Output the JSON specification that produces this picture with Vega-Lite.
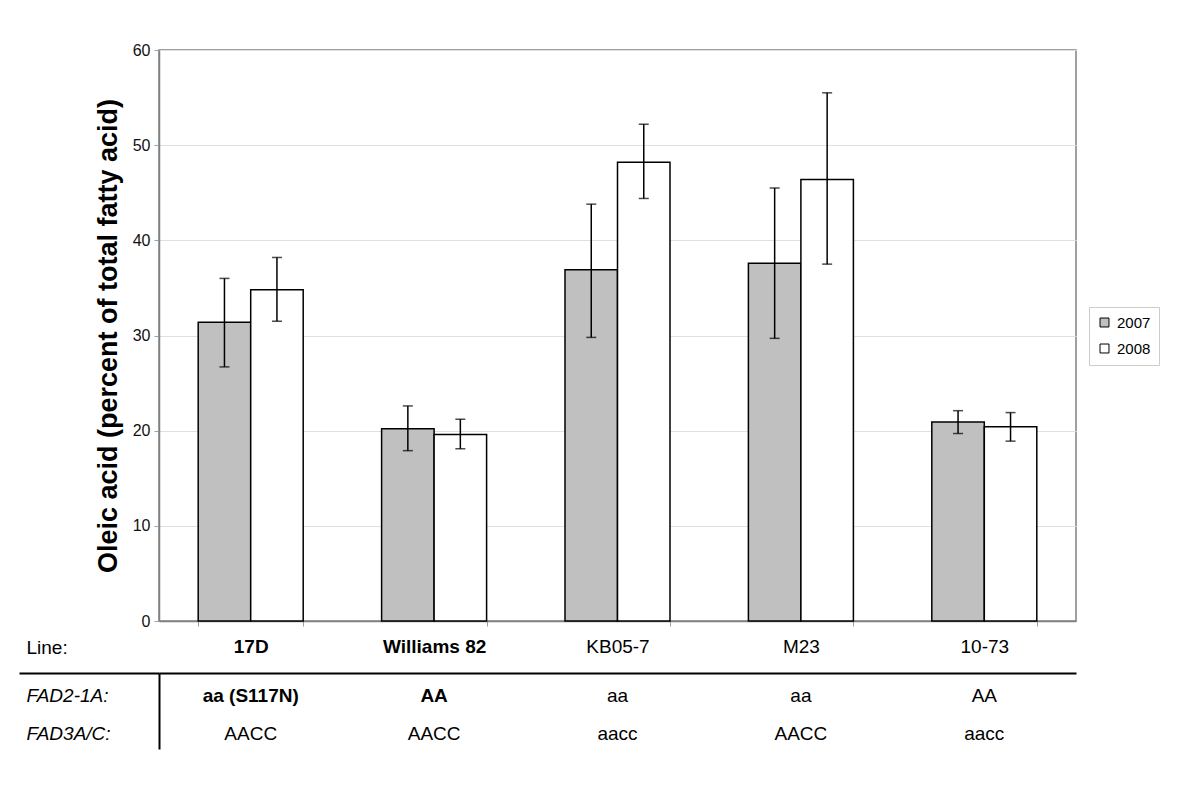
{
  "$schema": "https://vega.github.io/schema/vega-lite/v6.json",
  "background": "white",
  "padding": {"left": 18, "top": 41, "right": 5, "bottom": 5},
  "config": {
    "font": "Liberation Sans",
    "view": {"stroke": null}
  },
  "datasets": {
    "bars": [
      {"line": "17D", "year": "2007", "mean": 31.4, "lo": 26.7, "hi": 36.0},
      {"line": "17D", "year": "2008", "mean": 34.8, "lo": 31.5, "hi": 38.2},
      {"line": "Williams 82", "year": "2007", "mean": 20.2, "lo": 17.9, "hi": 22.6},
      {"line": "Williams 82", "year": "2008", "mean": 19.6, "lo": 18.1, "hi": 21.2},
      {"line": "KB05-7", "year": "2007", "mean": 36.9, "lo": 29.8, "hi": 43.8},
      {"line": "KB05-7", "year": "2008", "mean": 48.2, "lo": 44.4, "hi": 52.2},
      {"line": "M23", "year": "2007", "mean": 37.6, "lo": 29.7, "hi": 45.5},
      {"line": "M23", "year": "2008", "mean": 46.4, "lo": 37.5, "hi": 55.5},
      {"line": "10-73", "year": "2007", "mean": 20.9, "lo": 19.7, "hi": 22.1},
      {"line": "10-73", "year": "2008", "mean": 20.4, "lo": 18.9, "hi": 21.9}
    ],
    "table": [
      {"line": "17D", "row": "FAD2-1A:", "value": "aa (S117N)"},
      {"line": "Williams 82", "row": "FAD2-1A:", "value": "AA"},
      {"line": "KB05-7", "row": "FAD2-1A:", "value": "aa"},
      {"line": "M23", "row": "FAD2-1A:", "value": "aa"},
      {"line": "10-73", "row": "FAD2-1A:", "value": "AA"},
      {"line": "17D", "row": "FAD3A/C:", "value": "AACC"},
      {"line": "Williams 82", "row": "FAD3A/C:", "value": "AACC"},
      {"line": "KB05-7", "row": "FAD3A/C:", "value": "aacc"},
      {"line": "M23", "row": "FAD3A/C:", "value": "AACC"},
      {"line": "10-73", "row": "FAD3A/C:", "value": "aacc"}
    ]
  },
  "spacing": 14,
  "resolve": {"legend": {"fill": "independent"}},
  "vconcat": [
    {
      "width": 917,
      "height": 571,
      "view": {"stroke": "#808080", "strokeWidth": 1.5},
      "data": {"name": "bars"},
      "encoding": {
        "x": {
          "field": "line", "type": "nominal",
          "sort": ["17D", "Williams 82", "KB05-7", "M23", "10-73"],
          "scale": {"paddingInner": 0.4275, "paddingOuter": 0.21375},
          "axis": {
            "title": "Line:", "titleX": -133, "titleY": 26, "titleAlign": "left", "titleBaseline": "middle",
            "titleFontWeight": "normal", "titleFontSize": 19, "titleColor": "black",
            "labelAngle": 0, "labelFontSize": 19, "labelColor": "black", "labelPadding": 11,
            "labelFontWeight": {"condition": {"test": "datum.value === '17D' || datum.value === 'Williams 82'", "value": "bold"}, "value": "normal"},
            "tickBand": "extent", "tickSize": 5, "tickColor": "#a0a0a0", "domainColor": "#808080", "domainWidth": 1.5
          }
        },
        "xOffset": {"field": "year", "type": "nominal", "sort": ["2007", "2008"], "scale": {"paddingInner": 0, "paddingOuter": 0}}
      },
      "layer": [
        {
          "mark": {"type": "bar", "stroke": "black", "strokeWidth": 1.5},
          "encoding": {
            "y": {
              "field": "mean", "type": "quantitative", "title": "Oleic acid (percent of total fatty acid)",
              "scale": {"domain": [0, 60], "nice": false},
              "axis": {
                "values": [0, 10, 20, 30, 40, 50, 60],
                "titleFontSize": 27, "titleFontWeight": "bold", "titleColor": "black", "titlePadding": 10,
                "labelFontSize": 16, "labelColor": "#111111", "labelPadding": 4,
                "tickSize": 5, "tickColor": "#a0a0a0", "domainColor": "#808080", "domainWidth": 1.5,
                "grid": true, "gridColor": "#e0e0e0", "gridWidth": 1
              }
            },
            "fill": {
              "field": "year", "type": "nominal",
              "scale": {"domain": ["2007", "2008"], "range": ["#c0c0c0", "#ffffff"]},
              "legend": {
                "title": null, "orient": "none", "legendX": 930, "legendY": 257,
                "symbolType": "square", "symbolSize": 80, "symbolStrokeColor": "black", "symbolStrokeWidth": 1,
                "labelFontSize": 15, "labelColor": "black", "labelOffset": 5,
                "strokeColor": "#cccccc", "padding": 8, "rowPadding": 10
              }
            }
          }
        },
        {
          "mark": {"type": "rule", "color": "black", "strokeWidth": 1.5},
          "encoding": {
            "y": {"field": "lo", "type": "quantitative", "title": "Oleic acid (percent of total fatty acid)"},
            "y2": {"field": "hi"}
          }
        },
        {
          "mark": {"type": "tick", "color": "black", "size": 10, "thickness": 1.5},
          "encoding": {
            "y": {"field": "lo", "type": "quantitative", "title": "Oleic acid (percent of total fatty acid)"}
          }
        },
        {
          "mark": {"type": "tick", "color": "black", "size": 10, "thickness": 1.5},
          "encoding": {
            "y": {"field": "hi", "type": "quantitative", "title": "Oleic acid (percent of total fatty acid)"}
          }
        }
      ]
    },
    {
      "width": 917,
      "height": 76,
      "data": {"name": "table"},
      "encoding": {
        "x": {
          "field": "line", "type": "nominal",
          "sort": ["17D", "Williams 82", "KB05-7", "M23", "10-73"],
          "scale": {"paddingInner": 0.4275, "paddingOuter": 0.21375},
          "axis": {"orient": "top", "title": null, "labels": false, "ticks": false, "domain": true, "domainColor": "black", "domainWidth": 2}
        },
        "y": {
          "field": "row", "type": "nominal", "sort": ["FAD2-1A:", "FAD3A/C:"], "bandPosition": 0.6,
          "scale": {"type": "band", "paddingInner": 0, "paddingOuter": 0},
          "axis": {
            "title": null, "bandPosition": 0, "grid": false,
            "domain": true, "domainColor": "black", "domainWidth": 2,
            "ticks": true, "tickSize": 140, "tickWidth": 2,
            "tickColor": {"condition": {"test": "datum.value === 'FAD2-1A:'", "value": "black"}, "value": "transparent"},
            "labelAlign": "left", "labelBaseline": "middle", "labelPadding": -7, "labelOffset": 4,
            "labelFontSize": 19, "labelFontStyle": "italic", "labelColor": "black"
          }
        },
        "text": {"field": "value", "type": "nominal"}
      },
      "layer": [
        {
          "transform": [{"filter": "!(datum.row === 'FAD2-1A:' && (datum.line === '17D' || datum.line === 'Williams 82'))"}],
          "mark": {"type": "text", "fontSize": 19, "color": "black"}
        },
        {
          "transform": [{"filter": "datum.row === 'FAD2-1A:' && (datum.line === '17D' || datum.line === 'Williams 82')"}],
          "mark": {"type": "text", "fontSize": 19, "color": "black", "fontWeight": "bold"}
        }
      ]
    }
  ]
}
